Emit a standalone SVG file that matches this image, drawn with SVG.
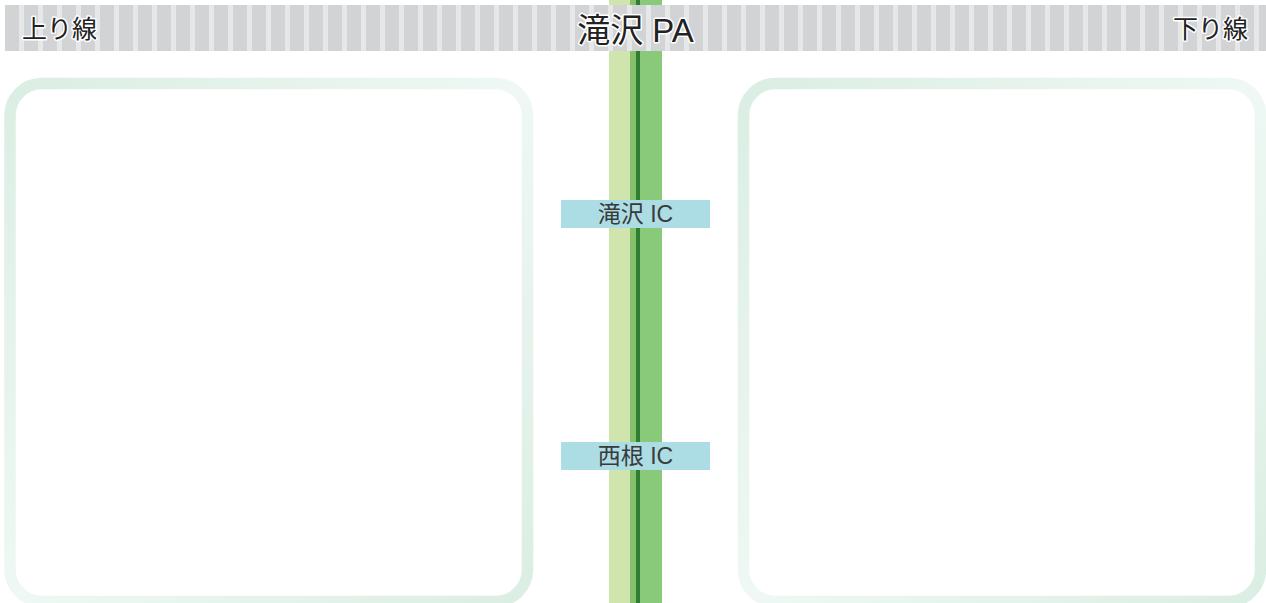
<svg xmlns="http://www.w3.org/2000/svg" width="1266" height="603" viewBox="0 0 1266 603">
  <style>
    .hdr { font-family: "Liberation Sans", "Noto Sans CJK JP", sans-serif; fill: #222; stroke: #fff; stroke-width: 3; paint-order: stroke; stroke-linejoin: round; }
    .ic { font-family: "Liberation Sans", "Noto Sans CJK JP", sans-serif; font-size: 23px; fill: #3a3a3a; text-anchor: middle; }
    .icbox { fill: #acdde4; }
    .panel { fill: #fff; stroke-width: 11.5; }
  </style>
  <defs>
    <pattern id="stripes" x="5" y="0" width="19" height="60" patternUnits="userSpaceOnUse">
      <rect x="0" y="0" width="19" height="60" fill="#e6e7e8"/>
      <rect x="0" y="0" width="14" height="60" fill="#d1d3d5"/>
    </pattern>
    <linearGradient id="pg" x1="0" y1="0" x2="1" y2="1">
      <stop offset="0" stop-color="#dbeee3"/>
      <stop offset="0.5" stop-color="#eff8f4"/>
      <stop offset="1" stop-color="#dbeee3"/>
    </linearGradient>
  </defs>

  <rect x="0" y="0" width="1266" height="603" fill="#fff"/>

  <g id="road">
    <rect x="609" y="0" width="22" height="603" fill="#cfe5ad"/>
    <rect x="630" y="0" width="6" height="603" fill="#86c06a"/>
    <rect x="636" y="0" width="4" height="603" fill="#2e7d32"/>
    <rect x="640" y="0" width="22" height="603" fill="#88c97a"/>
  </g>

  <g id="header">
    <rect x="5" y="5" width="1261" height="46" fill="url(#stripes)"/>
    <text class="hdr" x="22" y="38" font-size="25">上り線</text>
    <text class="hdr" x="635.5" y="42" font-size="33" text-anchor="middle">滝沢 PA</text>
    <text class="hdr" x="1248" y="38" font-size="25" text-anchor="end">下り線</text>
  </g>

  <g id="panel-left">
    <rect class="panel" x="10" y="83.5" width="517.5" height="518" rx="32" ry="32" stroke="url(#pg)"/>
  </g>
  <g id="panel-right">
    <rect class="panel" x="743.5" y="83.5" width="517" height="518" rx="32" ry="32" stroke="url(#pg)"/>
  </g>

  <g id="ic-takizawa">
    <rect class="icbox" x="561" y="200" width="149" height="28"/>
    <text class="ic" x="635.5" y="222">滝沢 IC</text>
  </g>
  <g id="ic-nishine">
    <rect class="icbox" x="561" y="442" width="149" height="28"/>
    <text class="ic" x="635.5" y="464">西根 IC</text>
  </g>

  <g id="connectors"></g>
</svg>
